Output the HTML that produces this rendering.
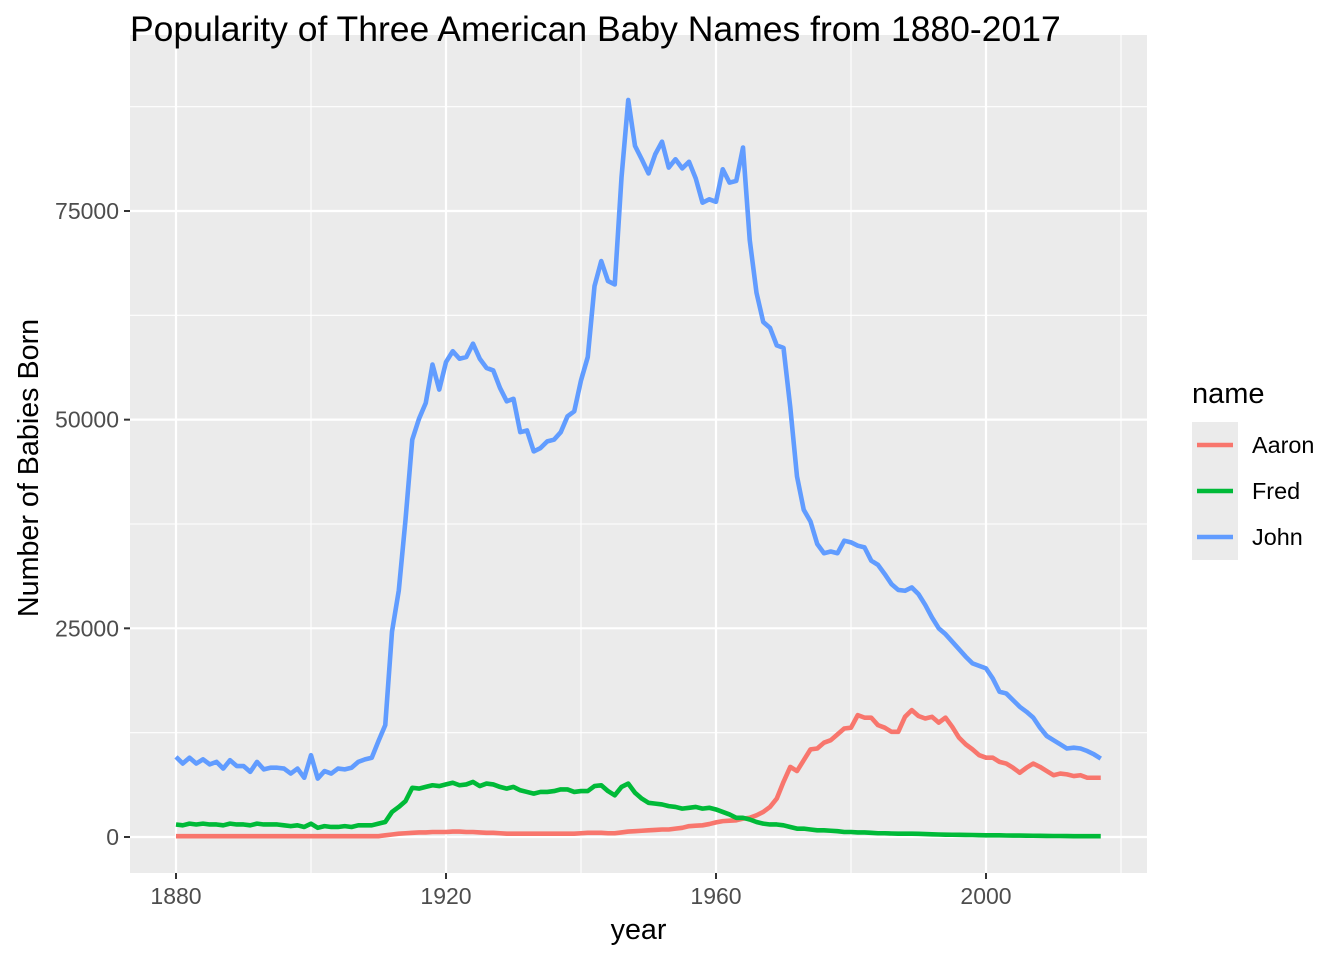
<!DOCTYPE html>
<html><head><meta charset="utf-8">
<style>
html,body{margin:0;padding:0;background:#fff;}
svg{display:block;font-family:"Liberation Sans",sans-serif;}
</style></head>
<body>
<svg id="chart" width="1344" height="960"></svg>
<script>
const years = [];
for (let y = 1880; y <= 2017; y++) years.push(y);
const xTicks = [1880, 1920, 1960, 2000];
const yTicks = [0, 25000, 50000, 75000];
const seriesNames = ["Aaron", "Fred", "John"];
const johnK = [9.6,8.8,9.5,8.8,9.3,8.7,9.0,8.2,9.2,8.5, 8.5,7.8,9.0,8.1,8.3,8.3,8.2,7.6,8.2,7.1,
 9.8,7.0,7.9,7.6,8.2,8.1,8.3,9.0,9.3,9.5, 11.5,13.4,24.6,29.5,38.0,47.6,50.1,52.0,56.6,53.6,
 56.9,58.2,57.3,57.5,59.1,57.3,56.2,55.9,53.8,52.2, 52.5,48.5,48.7,46.2,46.6,47.4,47.6,48.5,50.4,51.0,
 54.7,57.5,66.0,69.0,66.6,66.2,79.0,88.3,82.8,81.2, 79.5,81.8,83.3,80.2,81.2,80.1,80.9,78.9,76.0,76.4,
 76.1,80.0,78.4,78.6,82.6,71.5,65.2,61.7,61.0,58.9, 58.6,51.5,43.2,39.2,37.8,35.1,34.0,34.2,34.0,35.5,
 35.3,34.9,34.7,33.1,32.6,31.5,30.3,29.6,29.5,29.9, 29.1,27.8,26.3,25.0,24.3,23.4,22.5,21.6,20.8,20.5,
 20.2,19.0,17.4,17.2,16.4,15.6,15.0,14.3,13.1,12.1, 11.6,11.1,10.6,10.7,10.6,10.3,9.9,9.4];
const fredK = [1.5,1.4,1.6,1.5,1.6,1.5,1.5,1.4,1.6,1.5, 1.5,1.4,1.6,1.5,1.5,1.5,1.4,1.3,1.4,1.2,
 1.6,1.1,1.3,1.2,1.2,1.3,1.2,1.4,1.4,1.4, 1.6,1.8,3.0,3.6,4.3,5.9,5.8,6.0,6.2,6.1,
 6.3,6.5,6.2,6.3,6.6,6.1,6.4,6.3,6.0,5.8, 6.0,5.6,5.4,5.2,5.4,5.4,5.5,5.7,5.7,5.4,
 5.5,5.5,6.1,6.2,5.5,5.0,6.0,6.4,5.3,4.6, 4.1,4.0,3.9,3.7,3.6,3.4,3.5,3.6,3.4,3.5,
 3.3,3.0,2.7,2.3,2.3,2.1,1.8,1.6,1.5,1.5, 1.4,1.2,1.0,1.0,0.9,0.8,0.8,0.75,0.7,0.6,
 0.6,0.55,0.55,0.5,0.45,0.45,0.42,0.4,0.4,0.4, 0.38,0.35,0.32,0.3,0.28,0.27,0.26,0.25,0.24,0.22,
 0.2,0.2,0.2,0.18,0.17,0.17,0.16,0.15,0.14,0.13, 0.12,0.12,0.11,0.1,0.1,0.1,0.1,0.1];
const aaronK = [0.1,0.1,0.1,0.1,0.1,0.1,0.1,0.1,0.1,0.1, 0.1,0.1,0.1,0.1,0.1,0.1,0.1,0.1,0.1,0.1,
 0.1,0.1,0.1,0.1,0.1,0.1,0.1,0.1,0.1,0.1, 0.1,0.2,0.3,0.4,0.45,0.5,0.55,0.55,0.6,0.6,
 0.6,0.65,0.65,0.6,0.6,0.55,0.5,0.5,0.45,0.4, 0.4,0.4,0.4,0.4,0.4,0.4,0.4,0.4,0.4,0.4,
 0.45,0.5,0.5,0.5,0.45,0.45,0.55,0.65,0.7,0.75, 0.8,0.85,0.9,0.9,1.0,1.1,1.3,1.35,1.4,1.55,
 1.75,1.9,1.95,2.0,2.2,2.3,2.6,3.0,3.6,4.6, 6.6,8.4,7.9,9.2,10.5,10.6,11.3,11.6,12.3,13.0,
 13.1,14.6,14.3,14.3,13.4,13.1,12.6,12.6,14.4,15.2, 14.5,14.2,14.4,13.7,14.3,13.2,11.9,11.1,10.5,9.8,
 9.5,9.5,9.0,8.8,8.3,7.7,8.3,8.8,8.4,7.9, 7.4,7.6,7.5,7.3,7.4,7.1,7.1,7.1];
const colors = ["#F8766D", "#00BA38", "#619CFF"];

const NS = "http://www.w3.org/2000/svg";
const svg = document.getElementById("chart");
const P = {l:130, r:1147, t:35, b:873};
const xs = y => 176 + (y - 1880) * 6.75;
const ys = v => 837 - v * (208.67 / 25000);
function mk(tag, attrs, parent) {
  const e = document.createElementNS(NS, tag);
  for (const k in attrs) e.setAttribute(k, attrs[k]);
  (parent || svg).appendChild(e);
  return e;
}
const panel = mk("rect", {x:P.l, y:P.t, width:P.r-P.l, height:P.b-P.t, fill:"#EBEBEB"});


for (let i = 0; i < xTicks.length; i++) {
  const x = xs(xTicks[i] + 20);
  if (x < P.r) mk("line", {x1:x, x2:x, y1:P.t, y2:P.b, stroke:"#fff", "stroke-width":1.1});
}
for (let i = 0; i < yTicks.length; i++) {
  const y = ys(yTicks[i] + 12500);
  if (y > P.t) mk("line", {x1:P.l, x2:P.r, y1:y, y2:y, stroke:"#fff", "stroke-width":1.1});
}
xTicks.forEach(t => {
  const x = xs(t);
  const g = mk("line", {x1:x, x2:x, y1:P.t, y2:P.b, stroke:"#fff", "stroke-width":2.2});
  
  
  mk("line", {x1:x, x2:x, y1:P.b, y2:P.b+6, stroke:"#333", "stroke-width":2});
  const lb = mk("text", {x:x, y:904, "font-size":23, fill:"#4D4D4D", "text-anchor":"middle"});
  lb.textContent = t;
  
  
});
yTicks.forEach(t => {
  const y = ys(t);
  const g = mk("line", {x1:P.l, x2:P.r, y1:y, y2:y, stroke:"#fff", "stroke-width":2.2});
  
  
  mk("line", {x1:P.l-6, x2:P.l, y1:y, y2:y, stroke:"#333", "stroke-width":2});
  const lb = mk("text", {x:P.l-11, y:y+8, "font-size":23, fill:"#4D4D4D", "text-anchor":"end"});
  lb.textContent = t;
  
  
});
const seriesData = [aaronK, fredK, johnK];
seriesData.forEach((arr, si) => {
  const d = arr.map((v, i) => (i ? "L" : "M") + xs(years[i]).toFixed(2) + "," + ys(v * 1000).toFixed(2)).join(" ");
  const p = mk("path", {d:d, fill:"none", stroke:colors[si], "stroke-width":4.6, "stroke-linejoin":"round"});
  
  
});
const xt = mk("text", {x:(P.l+P.r)/2, y:939, "font-size":28.7, fill:"#000", "text-anchor":"middle"});
xt.textContent = "year";


const yt = mk("text", {x:0, y:0, "font-size":28.7, fill:"#000", "text-anchor":"middle", transform:"translate(38,468) rotate(-90)"});
yt.textContent = "Number of Babies Born";


const lt = mk("text", {x:1192, y:403, "font-size":29, fill:"#000"});
lt.textContent = "name";


seriesNames.forEach((n, i) => {
  const y0 = 422 + i * 46;
  const g = mk("g", {});
  
  
  mk("rect", {x:1192, y:y0, width:46, height:46, fill:"#EBEBEB"}, g);
  mk("line", {x1:1197, x2:1233, y1:y0+23, y2:y0+23, stroke:colors[i], "stroke-width":4.6}, g);
  const t = mk("text", {x:1252, y:y0+31, "font-size":23.4, fill:"#000"}, g);
  t.textContent = n;
});
const title = mk("text", {x:130, y:41, "font-size":35.5, fill:"#000"});
title.textContent = "Popularity of Three American Baby Names from 1880-2017";


</script>
</body></html>
